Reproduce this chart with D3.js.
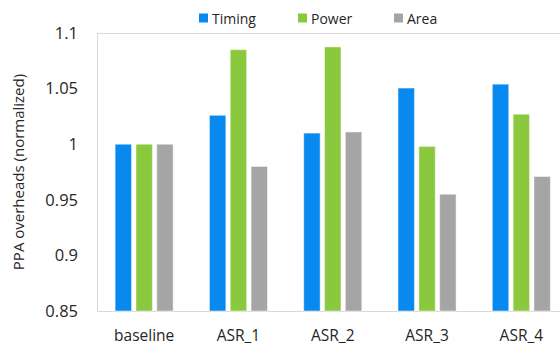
<!DOCTYPE html>
<html><head><meta charset="utf-8">
<script src="https://cdn.jsdelivr.net/npm/d3@7"></script>
<style>body{margin:0;background:#fff}svg{display:block}text{font-family:"Open Sans",sans-serif;fill:#262626}</style>
</head><body><svg id="c" width="560" height="345"></svg>
<script>
const categories = ["baseline","ASR_1","ASR_2","ASR_3","ASR_4"];
const seriesNames = ["Timing","Power","Area"];
const timing = [1.0, 1.026, 1.010, 1.0505, 1.054];
const power  = [1.0, 1.085, 1.0875, 0.998, 1.027];
const area   = [1.0, 0.980, 1.011, 0.955, 0.971];
const colors = ["#0789F0","#8AC83E","#A5A5A5"];
const yTicks = [0.85,0.9,0.95,1,1.05,1.1];
const yLabel = "PPA overheads (normalized)";

const svg = d3.select("#c");
const m = {left:97, top:33, bottom:311, right:568.5};
const x0 = d3.scaleBand().domain(categories).range([m.left, m.right]).padding(0);
const x1 = d3.scaleBand().domain(seriesNames).range([0, x0.bandwidth()]).paddingInner(0.21).paddingOuter(0.87);
const y = d3.scaleLinear().domain([0.85,1.1]).range([m.bottom, m.top]);
const vals = [timing, power, area];

// frame
const frame = svg.append("g").attr("stroke","#D9D9D9").attr("stroke-width",1).attr("fill","none");
frame.append("line").attr("x1",m.left+0.5).attr("x2",m.left+0.5).attr("y1",y(1.1)).attr("y2",y(0.85));
frame.append("line").attr("x1",m.left).attr("x2",560).attr("y1",y(1.1)+0.5).attr("y2",y(1.1)+0.5);
frame.append("line").attr("x1",m.left).attr("x2",560).attr("y1",y(0.85)+0.5).attr("y2",y(0.85)+0.5);

// bars
seriesNames.forEach((s,si)=>{
  svg.append("g").selectAll("rect").data(categories).join("rect")
    .attr("x",c=>x0(c)+x1(s))
    .attr("width",x1.bandwidth())
    .attr("y",(c,i)=>y(vals[si][i]))
    .attr("height",(c,i)=>y(0.85)-y(vals[si][i]))
    .attr("fill",colors[si])
    .attr("stroke","#ffffff").attr("stroke-opacity",0.5).attr("stroke-width",1);
});

// y axis
const ya = d3.axisLeft(y).tickValues(yTicks).tickSize(0).tickPadding(19).tickFormat(d3.format("~g"));
const yg = svg.append("g").attr("transform",`translate(${m.left},0)`).call(ya);
yg.select(".domain").remove();
yg.selectAll("text").style("font-size","16.5px").style("font-family","'Open Sans',sans-serif").attr("fill","#262626");

// x axis
const xa = d3.axisBottom(x0).tickSize(0).tickPadding(19);
const xg = svg.append("g").attr("transform",`translate(0,${m.bottom})`).call(xa);
xg.select(".domain").remove();
xg.selectAll("text").style("font-size","15.5px").style("font-family","'Open Sans',sans-serif").attr("fill","#262626");

// y title
svg.append("text").attr("transform","translate(24,172) rotate(-90)").attr("text-anchor","middle")
  .style("font-size","15px").text(yLabel);

// legend
const legX = [199, 298, 394];
const lg = svg.append("g");
seriesNames.forEach((s,i)=>{
  lg.append("rect").attr("x",legX[i]).attr("y",13.5).attr("width",9).attr("height",9).attr("fill",colors[i]);
  lg.append("text").attr("x",legX[i]+13).attr("y",23.5).style("font-size","14px").text(s);
});
</script></body></html>
